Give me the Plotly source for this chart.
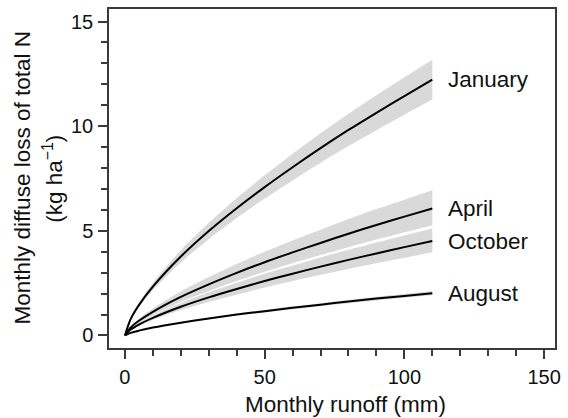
import plotly.graph_objects as go

runoff = [0, 2, 5, 10, 20, 30, 40, 50, 60, 70, 80, 90, 100, 110]

jan = [0, 0.77, 1.45, 2.33, 3.77, 4.99, 6.08, 7.09, 8.04, 8.95, 9.82, 10.64, 11.44, 12.22]
jan_hi = [0, 0.83, 1.56, 2.51, 4.07, 5.38, 6.56, 7.65, 8.68, 9.66, 10.60, 11.48, 12.34, 13.18]
jan_lo = [0, 0.71, 1.34, 2.15, 3.48, 4.60, 5.61, 6.54, 7.41, 8.25, 9.05, 9.81, 10.55, 11.27]

apr = [0, 0.37, 0.70, 1.13, 1.84, 2.44, 2.99, 3.50, 3.97, 4.42, 4.86, 5.28, 5.68, 6.07]
apr_hi = [0, 0.42, 0.80, 1.29, 2.10, 2.79, 3.42, 4.00, 4.54, 5.05, 5.56, 6.04, 6.49, 6.94]
apr_lo = [0, 0.32, 0.61, 0.98, 1.60, 2.12, 2.60, 3.04, 3.45, 3.84, 4.22, 4.58, 4.93, 5.27]

octo = [0, 0.27, 0.52, 0.84, 1.37, 1.82, 2.22, 2.60, 2.95, 3.29, 3.61, 3.92, 4.22, 4.51]
oct_hi = [0, 0.31, 0.59, 0.95, 1.55, 2.06, 2.52, 2.95, 3.34, 3.73, 4.09, 4.44, 4.78, 5.11]
oct_lo = [0, 0.24, 0.46, 0.74, 1.21, 1.60, 1.95, 2.29, 2.60, 2.90, 3.18, 3.45, 3.71, 3.97]

aug = [0, 0.12, 0.23, 0.38, 0.61, 0.81, 1.00, 1.16, 1.32, 1.47, 1.62, 1.76, 1.89, 2.02]
aug_hi = [0, 0.13, 0.24, 0.40, 0.64, 0.85, 1.05, 1.22, 1.39, 1.54, 1.70, 1.85, 1.98, 2.12]
aug_lo = [0, 0.11, 0.22, 0.36, 0.58, 0.77, 0.95, 1.10, 1.25, 1.40, 1.54, 1.67, 1.80, 1.92]

series = [
    ("January", jan, jan_hi, jan_lo),
    ("April", apr, apr_hi, apr_lo),
    ("October", octo, oct_hi, oct_lo),
    ("August", aug, aug_hi, aug_lo),
]

FONT = "Liberation Sans, Arial, Helvetica, sans-serif"
AX = "#3a3a3a"
TXT = "#111111"
TITLE_SIZE = 22.5

fig = go.Figure()
for name, mid, hi, lo in series:
    fig.add_trace(go.Scatter(
        x=runoff, y=lo, mode="lines", line=dict(width=0, shape="spline", smoothing=0.8),
        hoverinfo="skip", showlegend=False))
    fig.add_trace(go.Scatter(
        x=runoff, y=hi, mode="lines", fill="tonexty", fillcolor="#d9d9d9",
        line=dict(width=0, shape="spline", smoothing=0.8),
        hoverinfo="skip", showlegend=False))
for name, mid, hi, lo in series:
    fig.add_trace(go.Scatter(
        x=runoff, y=mid, mode="lines",
        line=dict(color="black", width=2, shape="spline", smoothing=0.8),
        name=name, showlegend=False))
    fig.add_annotation(x=115, y=mid[-1], text=name, xanchor="left", yanchor="middle",
                       showarrow=False, font=dict(family=FONT, size=TITLE_SIZE, color=TXT))

fig.add_annotation(xref="paper", yref="paper", x=0.531, y=-0.168, text="Monthly runoff (mm)",
                   showarrow=False, xanchor="center", yanchor="middle",
                   font=dict(family=FONT, size=TITLE_SIZE, color=TXT))
fig.add_annotation(xref="paper", yref="paper", x=-0.195, y=0.5,
                   text="Monthly diffuse loss of total N", textangle=-90,
                   showarrow=False, xanchor="center", yanchor="middle",
                   font=dict(family=FONT, size=TITLE_SIZE, color=TXT))
fig.add_annotation(xref="paper", yref="paper", x=-0.127, y=0.5,
                   text="(kg ha<sup>\u22121</sup>)", textangle=-90,
                   showarrow=False, xanchor="center", yanchor="middle",
                   font=dict(family=FONT, size=TITLE_SIZE, color=TXT))

fig.update_layout(
    width=568, height=418,
    margin=dict(l=109, r=7, t=8, b=70),
    plot_bgcolor="white", paper_bgcolor="white",
    font=dict(family=FONT, size=20, color=TXT),
    xaxis=dict(range=[-5.7, 153.9], tickvals=[0, 50, 100, 150], showgrid=False,
               zeroline=False, showline=True, mirror=True, linecolor=AX, linewidth=1.5,
               ticks="outside", ticklen=9, tickwidth=1.5, tickcolor=AX,
               ticklabelstandoff=1,
               minor=dict(dtick=10, tick0=0, ticks="outside", ticklen=6, tickwidth=1.5,
                          tickcolor=AX, showgrid=False)),
    yaxis=dict(range=[-0.6, 15.6], tickvals=[0, 5, 10, 15], showgrid=False,
               zeroline=False, showline=True, mirror=True, linecolor=AX, linewidth=1.5,
               ticks="outside", ticklen=9, tickwidth=1.5, tickcolor=AX,
               ticklabelstandoff=1,
               minor=dict(dtick=1, tick0=0, ticks="outside", ticklen=6, tickwidth=1.5,
                          tickcolor=AX, showgrid=False)),
)

fig.write_html("out.html")
